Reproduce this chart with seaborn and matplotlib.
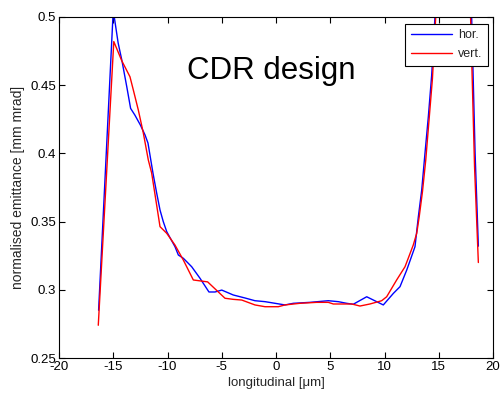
import numpy as np
import pandas as pd
import matplotlib
matplotlib.use("Agg")
import matplotlib.pyplot as plt
import seaborn as sns

# ---- data ----
x_hor = [-16.35, -15.0, -14.55, -14.2, -13.75, -13.4, -13.0, -12.5, -12.07, -11.8,
         -11.34, -11.0, -10.69, -10.39, -10.07, -9.31, -9.0, -8.54, -7.77, -7.0,
         -6.18, -5.62, -5.0, -3.94, -2.86, -1.94, -1.01, -0.09, 0.83, 1.6,
         3.13, 4.82, 5.74, 6.51, 7.12, 8.36, 9.89, 10.82, 11.43, 12.05,
         12.81, 13.12, 13.43, 13.73, 14.04, 14.35, 14.65, 15.3, 16.5, 17.6,
         18.0, 18.35, 18.65]
y_hor = [0.285, 0.505, 0.481, 0.468, 0.4487, 0.433, 0.428, 0.4208, 0.4135, 0.4076,
         0.3856, 0.371, 0.3585, 0.350, 0.3426, 0.3316, 0.3255, 0.3231, 0.3169, 0.3084,
         0.2984, 0.2984, 0.2998, 0.2962, 0.294, 0.292, 0.2913, 0.2901, 0.2889, 0.2901,
         0.2908, 0.292, 0.2913, 0.2901, 0.2894, 0.2949, 0.2889, 0.2974, 0.3023, 0.3145,
         0.3316, 0.3536, 0.3732, 0.40, 0.4269, 0.4575, 0.50, 0.58, 0.65, 0.62,
         0.51, 0.40, 0.332]

x_vert = [-16.38, -14.95, -14.22, -13.46, -13.15, -12.69, -12.23, -11.77, -11.46, -10.69,
          -10.07, -9.31, -8.54, -7.62, -6.3, -4.7, -3.94, -3.16, -1.94, -1.01,
          0.21, 0.83, 2.21, 3.75, 4.82, 5.28, 6.98, 7.74, 8.66, 9.74,
          10.2, 11.12, 11.89, 12.65, 12.97, 13.2, 13.5, 13.8, 14.1, 14.42,
          14.72, 15.3, 16.5, 17.5, 17.9, 18.3, 18.65]
y_vert = [0.274, 0.482, 0.468, 0.4562, 0.4465, 0.4318, 0.415, 0.3952, 0.3856, 0.3463,
          0.3414, 0.3328, 0.3218, 0.3072, 0.3058, 0.2938, 0.293, 0.2925, 0.2889, 0.2876,
          0.2876, 0.2889, 0.2901, 0.2908, 0.2908, 0.2896, 0.2896, 0.2881, 0.2896, 0.292,
          0.2949, 0.3072, 0.3169, 0.3328, 0.3414, 0.3536, 0.372, 0.395, 0.424, 0.455,
          0.50, 0.60, 0.66, 0.62, 0.51, 0.39, 0.32]

series_names = ["hor.", "vert."]
series_colors = ["#0000ff", "#ff0000"]
x_ticks = [-20, -15, -10, -5, 0, 5, 10, 15, 20]
y_ticks = [0.25, 0.3, 0.35, 0.4, 0.45, 0.5]
y_tick_labels = ["0.25", "0.3", "0.35", "0.4", "0.45", "0.5"]

df = pd.concat([
    pd.DataFrame({"x": x_hor, "y": y_hor, "series": series_names[0]}),
    pd.DataFrame({"x": x_vert, "y": y_vert, "series": series_names[1]}),
], ignore_index=True)

sns.set_style("white")
plt.rcParams["font.family"] = ["Liberation Sans", "DejaVu Sans"]

fig = plt.figure(figsize=(5.0, 3.98), dpi=100)
ax = fig.add_axes([0.118, 0.1005, 0.868, 0.8568])

sns.lineplot(data=df, x="x", y="y", hue="series", hue_order=series_names,
             palette=dict(zip(series_names, series_colors)), sort=False,
             estimator=None, linewidth=1.0, ax=ax)

ax.set_xlim(-20, 20)
ax.set_ylim(0.25, 0.5)
ax.set_xticks(x_ticks)
ax.set_xticklabels([str(t) for t in x_ticks])
ax.set_yticks(y_ticks)
ax.set_yticklabels(y_tick_labels)
ax.tick_params(direction="in", length=4, width=0.8, colors="black",
               labelsize=9.5, top=True, right=True, bottom=True, left=True, pad=2)
for s in ax.spines.values():
    s.set_visible(True)
    s.set_color("black")
    s.set_linewidth(0.8)

ax.set_xlabel("longitudinal [\u03bcm]", fontsize=9.5, labelpad=3)
ax.set_ylabel("normalised emittance [mm mrad]", fontsize=10, labelpad=4)

ax.text(-0.4, 0.4605, "CDR design", fontsize=22.5, ha="center", va="center", color="black")

leg = ax.legend(loc="upper right", bbox_to_anchor=(0.989, 0.98), borderaxespad=0,
                fancybox=False, edgecolor="black", framealpha=1, fontsize=9,
                handlelength=3.3, handletextpad=0.5, labelspacing=0.55, borderpad=0.45)
leg.get_frame().set_linewidth(0.8)
for line in leg.get_lines():
    line.set_linewidth(1.0)

fig.savefig("out.png", dpi=100, facecolor="white")
